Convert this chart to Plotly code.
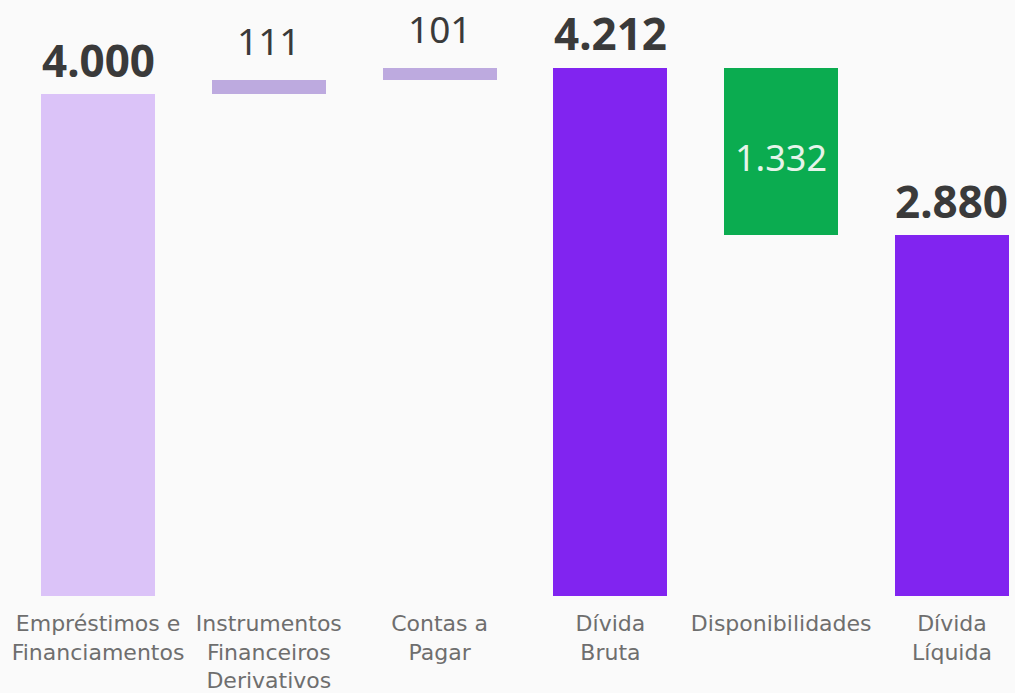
import plotly.graph_objects as go

categories = ["Empréstimos e<br>Financiamentos", "Instrumentos<br>Financeiros<br>Derivativos",
              "Contas a<br>Pagar", "Dívida<br>Bruta", "Disponibilidades", "Dívida<br>Líquida"]
values = [4000, 111, 101, 4212, -1332, 2880]
measures = ["relative", "relative", "relative", "total", "relative", "total"]
value_labels = ["4.000", "111", "101", "4.212", "1.332", "2.880"]

# compute floating bars
bases, heights, tops = [], [], []
running = 0
for v, m in zip(values, measures):
    if m == "total":
        bases.append(0)
        heights.append(v)
        running = v
    else:
        if v >= 0:
            bases.append(running)
            heights.append(v)
        else:
            bases.append(running + v)
            heights.append(-v)
        running += v
    tops.append(bases[-1] + heights[-1])

colors = []
for i, (v, m) in enumerate(zip(values, measures)):
    if m == "total":
        colors.append("#8124F0")
    elif v < 0:
        colors.append("#0BAC50")
    elif i == 0:
        colors.append("#DBC3F8")
    else:
        colors.append("#BDAADF")

x = list(range(len(categories)))
fig = go.Figure(go.Bar(x=x, y=heights, base=bases, marker=dict(color=colors, line=dict(width=0)),
                       width=0.667, hoverinfo="skip"))

FONT = "Noto Sans"
for i, (lab, v, m) in enumerate(zip(value_labels, values, measures)):
    if v < 0:
        fig.add_annotation(x=x[i], y=bases[i] + heights[i] / 2, text=lab, showarrow=False,
                           yanchor="middle", yshift=-6,
                           font=dict(family=FONT, size=36, color="#E6F4EA"))
    else:
        bold = (m == "total") or i == 0
        fig.add_annotation(x=x[i], y=tops[i], text=("<b>%s</b>" % lab) if bold else lab,
                           showarrow=False, yanchor="bottom", yshift=2 if bold else 12,
                           font=dict(family=FONT, size=44 if bold else 37, color="#3A3A3A"))

fig.update_layout(
    width=1015, height=693,
    margin=dict(l=0, r=0, t=0, b=97),
    paper_bgcolor="#FAFAFA", plot_bgcolor="#FAFAFA",
    showlegend=False,
    bargap=0,
    xaxis=dict(range=[-0.574, 5.369], tickmode="array", tickvals=x, ticktext=categories,
               showgrid=False, zeroline=False, showline=False, ticks="",
               ticklabelstandoff=12,
               tickfont=dict(family="DejaVu Sans", size=22, color="#6E6E6E")),
    yaxis=dict(range=[0, 4750], visible=False, showgrid=False, zeroline=False),
)

fig.write_html("out.html", config={"displayModeBar": False},
               post_script="document.body.style.margin='0';document.body.style.background='#FAFAFA';")
